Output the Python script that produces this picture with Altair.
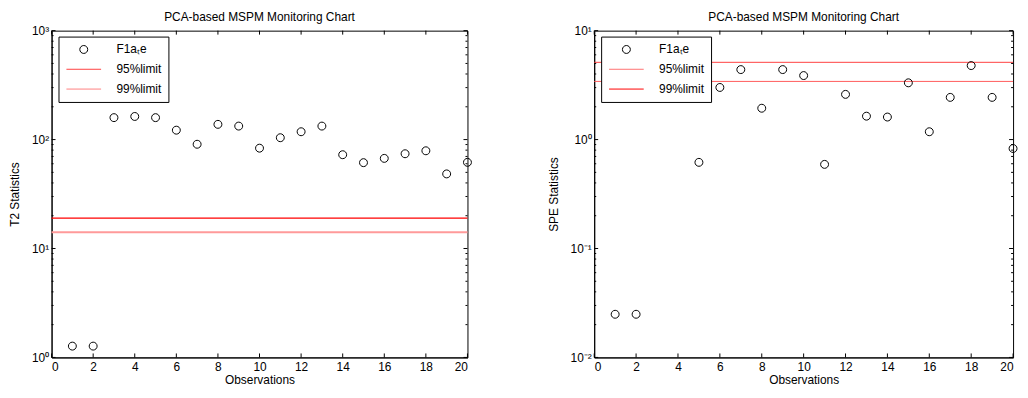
import math
import altair as alt
import pandas as pd

# ---------------- data ----------------
series_names = ["F1aₜe", "95%limit", "99%limit"]

obs_t2 = list(range(1, 21))
t2_values = [1.27, 1.27, 159, 163, 159, 122, 90.6, 138, 133, 83.4,
             104, 118, 133, 72.6, 61.4, 67.2, 74.1, 78.9, 48.4, 61.8]
t2_limit95 = 14.1
t2_limit99 = 19.0

obs_spe = [1, 2, 5, 6, 7, 8, 9, 10, 11, 12, 13, 14, 15, 16, 17, 18, 19, 20]
spe_values = [0.0249, 0.0249, 0.618, 3.01, 4.39, 1.94, 4.39, 3.87, 0.592,
              2.60, 1.64, 1.61, 3.32, 1.18, 2.44, 4.78, 2.44, 0.828]
spe_limit95 = 3.42
spe_limit99 = 5.12

x_ticks = list(range(0, 21, 2))
t2_major = [1, 10, 100, 1000]
t2_labels = ["10⁰", "10¹", "10²", "10³"]
spe_major = [0.01, 0.1, 1, 10]
spe_labels = ["10⁻²", "10⁻¹", "10⁰", "10¹"]

title_text = "PCA-based MSPM Monitoring Chart"
FONT = "Liberation Sans"
FS = 12

# symbol paths (unit box -1..1) used with a symbol size of 100 (10 px box);
# the limit-line symbol is drawn 35 px long
CIRCLE = "M0.8,0A0.8,0.8,0,1,1,-0.8,0A0.8,0.8,0,1,1,0.8,0Z"
STROKE = "M-3.5,0L3.5,0"


def minor_ticks(major):
    out = []
    for m in major[:-1]:
        for k in range(2, 10):
            out.append(m * k)
    return out


def panel(obs, vals, lim95, lim99, major, labels, ytitle, width, height,
          legend_colors, c95, w95, c99, w99):
    xs = alt.Scale(domain=[0, 20], nice=False, zero=False)
    ys = alt.Scale(type="log", domain=[major[0], major[-1]], nice=False)
    off = -round(math.log10(major[0]))
    label_expr = "[" + ",".join("'%s'" % l for l in labels) + "][round(log(datum.value)/LN10) + %d]" % off

    xaxis = alt.Axis(values=x_ticks, title="Observations", ticks=False, labelPadding=4,
                     titlePadding=2, grid=False)
    yaxis = alt.Axis(values=major, labelExpr=label_expr, title=ytitle, ticks=False,
                     labelPadding=3, titlePadding=10, grid=False)

    pts = pd.DataFrame({"obs": obs, "value": vals, "series": series_names[0]})
    legend = alt.Legend(orient="none", legendX=7, legendY=6, title=None)
    points = alt.Chart(pts).mark_point(filled=False, size=100, strokeWidth=1, opacity=1).encode(
        x=alt.X("obs:Q", scale=xs, axis=xaxis),
        y=alt.Y("value:Q", scale=ys, axis=yaxis),
        stroke=alt.Stroke("series:N", scale=alt.Scale(domain=series_names, range=legend_colors), legend=legend),
        shape=alt.Shape("series:N", scale=alt.Scale(domain=series_names, range=[CIRCLE, STROKE, STROKE]), legend=legend),
    )

    lim_df95 = pd.DataFrame({"limit": [lim95]})
    lim_df99 = pd.DataFrame({"limit": [lim99]})
    rule95 = alt.Chart(lim_df95).mark_rule(color=c95, strokeWidth=w95).encode(
        y=alt.Y("limit:Q", scale=ys, axis=yaxis))
    rule99 = alt.Chart(lim_df99).mark_rule(color=c99, strokeWidth=w99).encode(
        y=alt.Y("limit:Q", scale=ys, axis=yaxis))

    xt = pd.DataFrame({"t": x_ticks})
    xt_bottom = alt.Chart(xt).mark_rule(color="black", strokeWidth=1).encode(
        x=alt.X("t:Q", scale=xs, axis=xaxis), y=alt.value(height), y2=alt.value(height - 4))
    xt_top = alt.Chart(xt).mark_rule(color="black", strokeWidth=1).encode(
        x=alt.X("t:Q", scale=xs, axis=xaxis), y=alt.value(0), y2=alt.value(4))

    yt_major = pd.DataFrame({"t": major})
    yt_minor = pd.DataFrame({"t": minor_ticks(major)})
    layers_y = []
    for df, ln in ((yt_major, 4), (yt_minor, 2)):
        layers_y.append(alt.Chart(df).mark_rule(color="black", strokeWidth=1).encode(
            y=alt.Y("t:Q", scale=ys, axis=yaxis), x=alt.value(0), x2=alt.value(ln)))
        layers_y.append(alt.Chart(df).mark_rule(color="black", strokeWidth=1).encode(
            y=alt.Y("t:Q", scale=ys, axis=yaxis), x=alt.value(width), x2=alt.value(width - ln)))

    return alt.layer(rule95, rule99, xt_bottom, xt_top, *layers_y, points).properties(
        width=width, height=height,
        title=alt.TitleParams(title_text, fontSize=FS, fontWeight="normal", font=FONT,
                              anchor="middle", offset=1, color="black"),
    )


left = panel(obs_t2, t2_values, t2_limit95, t2_limit99, t2_major, t2_labels,
             "T2 Statistics", 420, 330,
             ["black", "#ff4040", "#ff8080"], "#ff9a9a", 2, "#ff0000", 1.2)
right = panel(obs_spe, spe_values, spe_limit95, spe_limit99, spe_major, spe_labels,
              "SPE Statistics", 423, 330,
              ["black", "#ff7070", "#ff0000"], "#ff5a5a", 1, "#ff4040", 1)

chart = alt.hconcat(left, right, spacing=73).resolve_scale(
    x="independent", y="independent", stroke="independent", shape="independent"
).resolve_legend(stroke="independent", shape="independent").properties(
    padding={"left": 0, "top": 0, "right": 0, "bottom": 0}
).configure_view(stroke="black", strokeWidth=1).configure_axis(
    domainColor="black", labelColor="black", titleColor="black", labelFont=FONT,
    titleFont=FONT, labelFontSize=FS, titleFontSize=FS, titleFontWeight="normal"
).configure_legend(
    labelFont=FONT, labelFontSize=FS, labelColor="black", strokeColor="black",
    fillColor="white", padding=7, rowPadding=8, labelOffset=27, symbolOffset=12.5,
    symbolSize=100, symbolStrokeWidth=1
)

chart.save("out.html", embed_options={"renderer": "svg", "actions": False})
